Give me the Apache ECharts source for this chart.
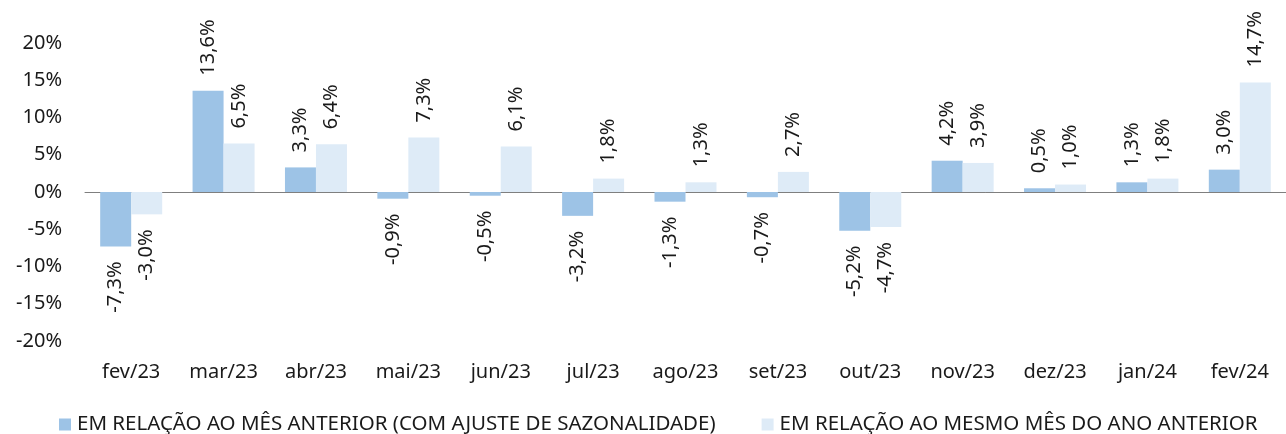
<!DOCTYPE html>
<html>
<head>
<meta charset="utf-8">
<script src="https://cdn.jsdelivr.net/npm/echarts@6/dist/echarts.min.js"></script>
<style>
html,body{margin:0;padding:0;background:#fff;}
#c{width:1286px;height:434px;}
</style>
</head>
<body>
<div id="c"></div>
<script>
const categories = ['fev/23','mar/23','abr/23','mai/23','jun/23','jul/23','ago/23','set/23','out/23','nov/23','dez/23','jan/24','fev/24'];
const seriesNames = ['EM RELAÇÃO AO MÊS ANTERIOR (COM AJUSTE DE SAZONALIDADE)', 'EM RELAÇÃO AO MESMO MÊS DO ANO ANTERIOR'];
const mensal = [-7.3, 13.6, 3.3, -0.9, -0.5, -3.2, -1.3, -0.7, -5.2, 4.2, 0.5, 1.3, 3.0];
const anual = [-3.0, 6.5, 6.4, 7.3, 6.1, 1.8, 1.3, 2.7, -4.7, 3.9, 1.0, 1.8, 14.7];
const yTicks = { min: -20, max: 20, interval: 5 };

const FONT = '"Noto Sans", "Open Sans", sans-serif';
function fmt(v){ return v.toFixed(1).replace('.', ',') + '%'; }
function items(arr){
  return arr.map(v => ({
    value: v,
    label: v >= 0
      ? { position: 'top', align: 'left' }
      : { position: 'bottom', align: 'right' }
  }));
}
const labelBase = {
  show: true, rotate: 90, distance: 15, verticalAlign: 'middle',
  fontFamily: FONT, fontSize: 20, color: '#1a1a1a',
  formatter: p => fmt(p.value)
};

const chart = echarts.init(document.getElementById('c'), null, {renderer:'canvas'});
chart.setOption({
  animation: false,
  textStyle: { fontFamily: FONT },
  grid: { left: 85, top: 43, width: 1209, height: 298 },
  legend: {
    left: 54, top: 409, icon: 'rect', itemWidth: 12, itemHeight: 12, itemGap: 46,
    textStyle: { fontFamily: FONT, fontSize: 20.5, color: '#1a1a1a', padding: [0,0,0,1] },
    data: seriesNames
  },
  xAxis: {
    type: 'category', data: categories,
    axisLine: { show: true, lineStyle: { color: '#7f7f7f', width: 1 } },
    axisTick: { show: false },
    axisLabel: { margin: 21, fontFamily: FONT, fontSize: 20, color: '#1a1a1a' }
  },
  yAxis: {
    type: 'value', min: yTicks.min, max: yTicks.max, interval: yTicks.interval,
    splitLine: { show: false }, axisLine: { show: false }, axisTick: { show: false },
    axisLabel: { margin: 23, fontFamily: FONT, fontSize: 20, color: '#1a1a1a', formatter: '{value}%' }
  },
  series: [
    { name: seriesNames[0], type: 'bar', data: items(mensal), barWidth: 31, barGap: '0%',
      itemStyle: { color: '#9dc3e6' }, label: labelBase },
    { name: seriesNames[1], type: 'bar', data: items(anual), barWidth: 31, barGap: '0%',
      itemStyle: { color: '#deebf7' }, label: labelBase }
  ]
});
</script>
</body>
</html>
